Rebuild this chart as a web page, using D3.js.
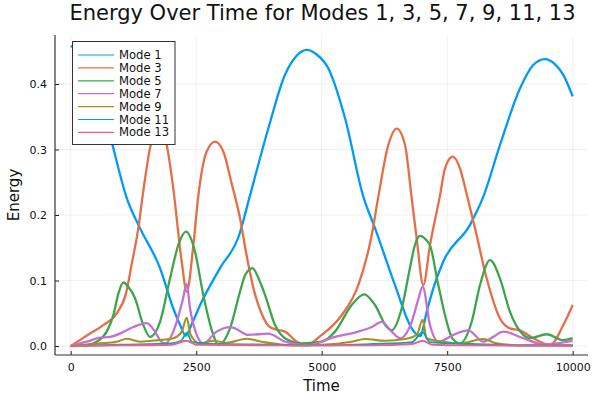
<!DOCTYPE html>
<html>
<head>
<meta charset="utf-8">
<script src="https://cdn.jsdelivr.net/npm/d3@7"></script>
<style>
html,body{margin:0;padding:0;background:#fff;}
svg{display:block;font-family:"DejaVu Sans",sans-serif;}
</style>
</head>
<body>
<svg id="chart" width="600" height="400"></svg>
<script>
// ---------- data ----------
const modeNames = ["Mode 1","Mode 3","Mode 5","Mode 7","Mode 9","Mode 11","Mode 13"];
const modeColors = ["#009AFA","#E36F47","#3EA44E","#C371D2","#AC8E18","#00AAAE","#ED5E93"];
const xTicks = [0, 2500, 5000, 7500, 10000];
const yTicks = [0.0, 0.1, 0.2, 0.3, 0.4];

const mode1 = [[0,0.458],[250,0.443],[500,0.405],[750,0.333],[843,0.304],[1115,0.226],[1380,0.18],[1779,0.119],[2040,0.058],[2180,0.032],[2290,0.016],[2420,0.035],[2580,0.063],[2974,0.119],[3350,0.168],[3572,0.23],[3936,0.332],[4269,0.414],[4500,0.443],[4701,0.452],[4900,0.445],[5131,0.424],[5464,0.348],[5829,0.228],[6062,0.18],[6460,0.093],[6793,0.027],[6958,0.015],[7100,0.055],[7223,0.088],[7422,0.129],[7954,0.185],[8220,0.228],[8552,0.307],[8950,0.393],[9215,0.429],[9448,0.438],[9650,0.43],[9813,0.414],[10000,0.381]];
const mode3 = [[0,0],[384,0.019],[650,0.032],[916,0.05],[1100,0.08],[1215,0.125],[1347,0.18],[1434,0.23],[1580,0.302],[1740,0.336],[1912,0.307],[2044,0.24],[2211,0.129],[2311,0.083],[2443,0.154],[2543,0.23],[2709,0.297],[2875,0.312],[3040,0.297],[3200,0.25],[3373,0.195],[3500,0.14],[3650,0.085],[3800,0.05],[3950,0.03],[4100,0.025],[4269,0.022],[4502,0.0066],[4700,0.002],[5000,0.017],[5398,0.047],[5729,0.093],[5996,0.169],[6128,0.228],[6327,0.307],[6494,0.332],[6660,0.307],[6793,0.2255],[6892,0.164],[7024,0.093],[7157,0.154],[7357,0.23],[7456,0.271],[7609,0.289],[7755,0.271],[7900,0.228],[8054,0.18],[8287,0.103],[8552,0.042],[8750,0.027],[8950,0.024],[9215,0.012],[9548,0.0015],[9813,0.032],[10000,0.0626]];
const mode5 = [[0,0],[300,0.001],[518,0.0066],[717,0.022],[849,0.047],[950,0.08],[1048,0.097],[1150,0.09],[1281,0.073],[1446,0.032],[1580,0.014],[1779,0.037],[1978,0.103],[2143,0.154],[2297,0.1745],[2476,0.144],[2641,0.078],[2841,0.017],[2940,0.0015],[3173,0.027],[3373,0.083],[3473,0.108],[3620,0.119],[3760,0.1],[3871,0.078],[4070,0.032],[4269,0.012],[4600,0.004],[5000,0.0066],[5265,0.022],[5597,0.0626],[5849,0.079],[6062,0.0626],[6295,0.029],[6394,0.024],[6594,0.0576],[6760,0.12],[6860,0.155],[6960,0.168],[7080,0.162],[7157,0.154],[7323,0.093],[7490,0.037],[7600,0.012],[7755,0.004],[7988,0.037],[8153,0.093],[8353,0.131],[8552,0.103],[8751,0.052],[9016,0.017],[9150,0.012],[9482,0.018],[9813,0.009],[10000,0.012]];
const mode7 = [[0,0],[319,0.0066],[584,0.0127],[783,0.014],[982,0.019],[1247,0.029],[1514,0.035],[1679,0.022],[1779,0.009],[1880,0.004],[2112,0.037],[2230,0.07],[2311,0.095],[2377,0.0576],[2510,0.017],[2641,0.004],[2908,0.022],[3173,0.029],[3273,0.027],[3538,0.017],[3936,0.019],[4269,0.0066],[4700,0.001],[5265,0.014],[5729,0.022],[5996,0.029],[6195,0.037],[6394,0.022],[6560,0.012],[6793,0.037],[6920,0.07],[7012,0.0905],[7157,0.032],[7323,0.0066],[7622,0.017],[7920,0.024],[8220,0.0066],[8419,0.014],[8618,0.022],[9016,0.012],[9414,0.0026],[10000,0.008]];
const mode9 = [[0,0],[584,0.004],[916,0.0066],[1115,0.011],[1380,0.0066],[1745,0.009],[2044,0.012],[2211,0.022],[2311,0.043],[2390,0.017],[2576,0.004],[2841,0.008],[3100,0.005],[3506,0.011],[3805,0.0066],[4400,0.001],[5000,0.002],[5597,0.0066],[5863,0.0107],[6261,0.008],[6660,0.0107],[6892,0.017],[7012,0.04],[7090,0.012],[7422,0.0066],[7755,0.004],[8220,0.0107],[8486,0.004],[9000,0.001],[10000,0.001]];
const mode11 = [[0,0],[1000,0.002],[2000,0.004],[2200,0.008],[2311,0.02],[2420,0.006],[3000,0.003],[4000,0.002],[5000,0.001],[6000,0.003],[6800,0.006],[7012,0.021],[7150,0.006],[8000,0.003],[9000,0.001],[10000,0.001]];
const mode13 = [[0,0],[1000,0.001],[2000,0.002],[2311,0.008],[2500,0.002],[4000,0.001],[6000,0.001],[6800,0.003],[7012,0.008],[7200,0.002],[8000,0.001],[10000,0.0005]];

const seriesData = [mode1, mode3, mode5, mode7, mode9, mode11, mode13];

// ---------- layout ----------
const svg = d3.select("#chart");
const plotL = 55, plotR = 588, plotT = 35, plotB = 355;

const x = d3.scaleLinear().domain([-313, 10305]).range([plotL, plotR]);
const y = d3.scaleLinear().domain([-0.0137, 0.4748]).range([plotB, plotT]);

// grid
const grid = svg.append("g");
grid.selectAll("line.gx").data(xTicks).enter().append("line")
  .attr("x1", d => x(d)).attr("x2", d => x(d))
  .attr("y1", plotT).attr("y2", plotB)
  .attr("stroke", "#000").attr("stroke-opacity", 0.1).attr("stroke-width", 0.6);
grid.selectAll("line.gy").data(yTicks).enter().append("line")
  .attr("x1", plotL).attr("x2", plotR)
  .attr("y1", d => y(d)).attr("y2", d => y(d))
  .attr("stroke", "#000").attr("stroke-opacity", 0.1).attr("stroke-width", 0.6);

// lines
const line = d3.line().x(d => x(d[0])).y(d => y(d[1])).curve(d3.curveMonotoneX);
const widths = [2.3, 2.3, 2.3, 2.3, 2.1, 1.9, 1.9];
svg.append("g").selectAll("path").data(seriesData).enter().append("path")
  .attr("d", d => line(d))
  .attr("fill", "none")
  .attr("stroke", (d, i) => modeColors[i])
  .attr("stroke-width", (d, i) => widths[i])
  .attr("stroke-linejoin", "round");

// axes
const xAxis = d3.axisBottom(x).tickValues(xTicks).tickFormat(d3.format("d")).tickSizeInner(-4).tickSizeOuter(0).tickPadding(8);
const yAxis = d3.axisLeft(y).tickValues(yTicks).tickFormat(d3.format(".1f")).tickSizeInner(-4).tickSizeOuter(0).tickPadding(8);

const gx = svg.append("g").attr("transform", `translate(0,${plotB})`).call(xAxis);
const gy = svg.append("g").attr("transform", `translate(${plotL},0)`).call(yAxis);
[gx, gy].forEach(g => {
  g.select(".domain").remove();
  g.selectAll(".tick line").attr("stroke", "#222").attr("stroke-width", 1);
  g.selectAll(".tick text").attr("font-family", "DejaVu Sans").attr("font-size", 11).attr("fill", "#111");
});
// axis lines
svg.append("line").attr("x1", plotL).attr("x2", plotR).attr("y1", plotB).attr("y2", plotB)
  .attr("stroke", "#333").attr("stroke-width", 1.2);
svg.append("line").attr("x1", plotL).attr("x2", plotL).attr("y1", plotT).attr("y2", plotB)
  .attr("stroke", "#333").attr("stroke-width", 1.2);

// title and axis labels
svg.append("text").attr("x", (plotL + plotR) / 2 + 1).attr("y", 20)
  .attr("text-anchor", "middle").attr("font-size", 21).attr("fill", "#111")
  .text("Energy Over Time for Modes 1, 3, 5, 7, 9, 11, 13");
svg.append("text").attr("x", (plotL + plotR) / 2).attr("y", 391)
  .attr("text-anchor", "middle").attr("font-size", 15).attr("fill", "#111")
  .text("Time");
svg.append("text").attr("transform", `translate(19,${(plotT + plotB) / 2}) rotate(-90)`)
  .attr("text-anchor", "middle").attr("font-size", 15).attr("fill", "#111")
  .text("Energy");

// legend
const lg = svg.append("g");
lg.append("rect").attr("x", 72.5).attr("y", 41.5).attr("width", 102.5).attr("height", 103)
  .attr("fill", "#fff").attr("stroke", "#333").attr("stroke-width", 1);
modeNames.forEach((name, i) => {
  const cy = 55 + i * 12.9;
  lg.append("line").attr("x1", 78).attr("x2", 114).attr("y1", cy).attr("y2", cy)
    .attr("stroke", modeColors[i]).attr("stroke-width", 1.2);
  lg.append("text").attr("x", 119).attr("y", cy + 4).attr("font-size", 11.6).attr("fill", "#111")
    .text(name);
});
</script>
</body>
</html>
